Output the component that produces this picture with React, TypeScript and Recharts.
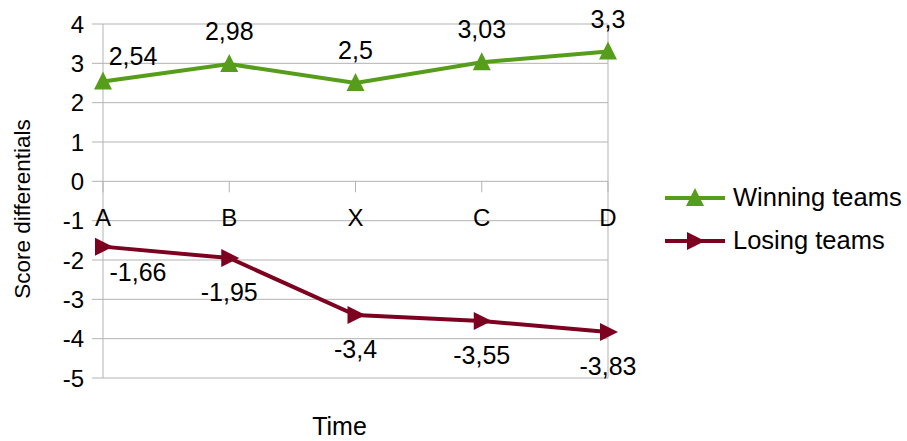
import React from 'react';
import {
  LineChart,
  Line,
  XAxis,
  YAxis,
  CartesianGrid,
  Legend,
  LabelList,
  ReferenceLine,
  ReferenceDot,
} from 'recharts';

const categories = ['A', 'B', 'X', 'C', 'D'];
const winningTeams = [2.54, 2.98, 2.5, 3.03, 3.3];
const losingTeams = [-1.66, -1.95, -3.4, -3.55, -3.83];
const yTicks = [-5, -4, -3, -2, -1, 0, 1, 2, 3, 4];

const data = categories.map((name, i) => ({
  name,
  winning: winningTeams[i],
  losing: losingTeams[i],
}));

const FONT = '"Liberation Sans", Arial, sans-serif';
const GRID = '#b3b3b3';
const GREEN = '#579d1c';
const MAROON = '#7e0021';

const fmt = (v: number) => String(v).replace('.', ',');

const TriangleUp = (props: any) => {
  const { cx, cy } = props;
  if (cx == null || cy == null) return null;
  return <polygon points={`${cx},${cy - 10} ${cx - 9},${cy + 8} ${cx + 9},${cy + 8}`} fill={GREEN} />;
};

const TriangleRight = (props: any) => {
  const { cx, cy } = props;
  if (cx == null || cy == null) return null;
  return <polygon points={`${cx + 10},${cy} ${cx - 8},${cy - 9} ${cx - 8},${cy + 9}`} fill={MAROON} />;
};

const WinLabel = (props: any) => {
  const { x, y, value, index } = props;
  const first = index === 0;
  return (
    <text x={x + (first ? 30 : 0)} y={y + (first ? -16 : -24)} textAnchor="middle" fontSize={25} fontFamily={FONT} fill="#000">
      {fmt(value)}
    </text>
  );
};

const LoseLabel = (props: any) => {
  const { x, y, value, index } = props;
  const first = index === 0;
  return (
    <text x={x + (first ? 35 : 0)} y={y + (first ? 34 : 43)} textAnchor="middle" fontSize={25} fontFamily={FONT} fill="#000">
      {fmt(value)}
    </text>
  );
};

// category axis drawn along the zero line
const CategoryTick = (name: string) => (props: any) => {
  const { cx, cy } = props;
  return (
    <g>
      <line x1={cx} y1={cy} x2={cx} y2={cy + 11} stroke={GRID} strokeWidth={1} />
      <text x={cx} y={cy + 45} textAnchor="middle" fontSize={24} fontFamily={FONT} fill="#000">
        {name}
      </text>
    </g>
  );
};

const LegendIcon = ({ color, shape }: { color: string; shape: 'up' | 'right' }) => (
  <svg width={62} height={24} style={{ display: 'block' }}>
    <line x1={0} y1={12} x2={60} y2={12} stroke={color} strokeWidth={4} />
    {shape === 'up' ? (
      <polygon points="30,2 21,20 39,20" fill={color} />
    ) : (
      <polygon points="40,12 22,3 22,21" fill={color} />
    )}
  </svg>
);

const renderLegend = () => {
  const items = [
    { label: 'Winning teams', color: GREEN, shape: 'up' as const },
    { label: 'Losing teams', color: MAROON, shape: 'right' as const },
  ];
  return (
    <div style={{ fontFamily: FONT, fontSize: 25.5, color: '#000' }}>
      {items.map((it) => (
        <div key={it.label} style={{ display: 'flex', alignItems: 'center', height: 43 }}>
          <LegendIcon color={it.color} shape={it.shape} />
          <span style={{ marginLeft: 6, whiteSpace: 'nowrap' }}>{it.label}</span>
        </div>
      ))}
    </div>
  );
};

export default function App() {
  return (
    <div style={{ position: 'absolute', left: 0, top: 0, background: '#fff' }}>
      <LineChart width={907} height={441} data={data} margin={{ top: 24, right: 299, bottom: 0, left: 0 }}>
        <CartesianGrid stroke={GRID} vertical={false} />
        <XAxis
          dataKey="name"
          height={63}
          tick={false}
          tickLine={false}
          axisLine={false}
          label={{
            content: (p: any) => {
              const vb = p.viewBox;
              return (
                <text x={vb.x + vb.width / 2 - 16} y={vb.y + 57} textAnchor="middle" fontSize={25} fontFamily={FONT} fill="#000">
                  Time
                </text>
              );
            },
          }}
        />
        <YAxis
          type="number"
          domain={[-5, 4]}
          ticks={yTicks}
          interval={0}
          width={103}
          tickSize={11}
          tickMargin={8}
          stroke={GRID}
          tick={{ fill: '#000', fontSize: 24, fontFamily: FONT }}
          label={{
            content: (p: any) => {
              const vb = p.viewBox;
              const cx = 22;
              const cy = vb.y + vb.height / 2 + 8;
              return (
                <text x={cx} y={cy} transform={`rotate(-90 ${cx} ${cy})`} textAnchor="middle" dominantBaseline="central" fontSize={22.5} fontFamily={FONT} fill="#000">
                  Score differentials
                </text>
              );
            },
          }}
        />
        <ReferenceLine x="D" stroke={GRID} />
        {categories.map((c) => (
          <ReferenceDot key={c} x={c} y={0} r={0} shape={CategoryTick(c)} ifOverflow="visible" />
        ))}
        <Legend
          layout="vertical"
          align="center"
          verticalAlign="middle"
          content={renderLegend}
          wrapperStyle={{ left: 665, top: 176, width: 240 }}
        />
        <Line
          type="linear"
          dataKey="winning"
          name="Winning teams"
          stroke={GREEN}
          strokeWidth={4}
          dot={<TriangleUp />}
          activeDot={false}
          isAnimationActive={false}
        >
          <LabelList dataKey="winning" content={<WinLabel />} />
        </Line>
        <Line
          type="linear"
          dataKey="losing"
          name="Losing teams"
          stroke={MAROON}
          strokeWidth={4}
          dot={<TriangleRight />}
          activeDot={false}
          isAnimationActive={false}
        >
          <LabelList dataKey="losing" content={<LoseLabel />} />
        </Line>
      </LineChart>
    </div>
  );
}
